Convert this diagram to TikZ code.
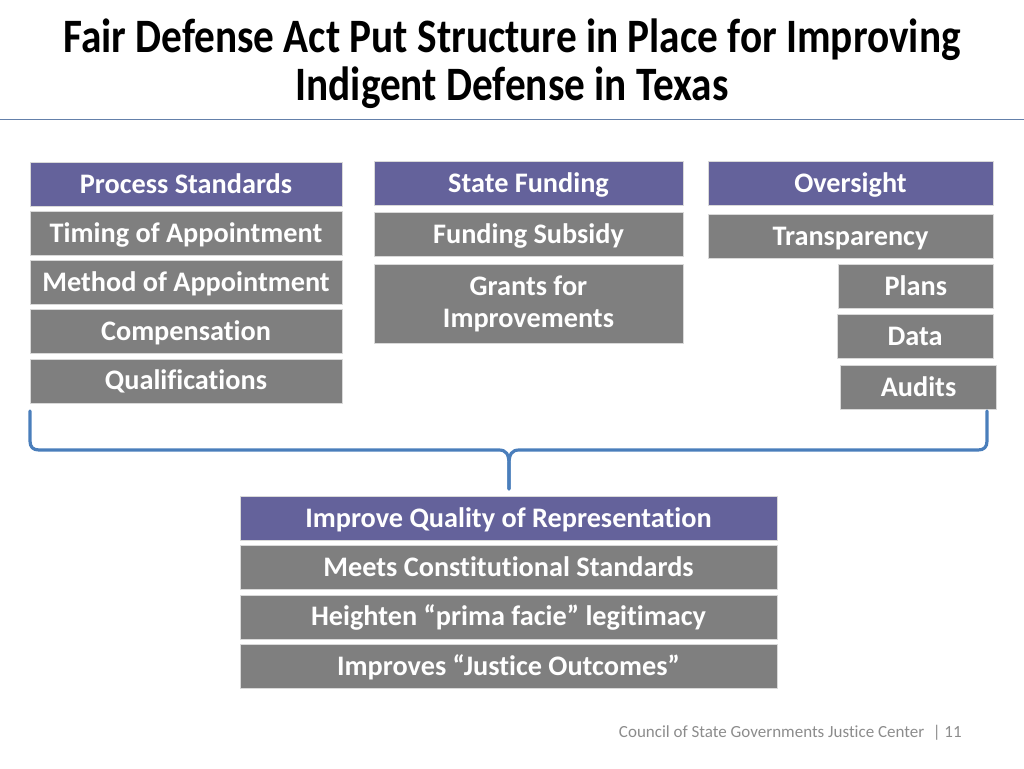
\documentclass[tikz,border=0pt]{standalone}
\usepackage{fontspec}
\setmainfont{Carlito}[Ligatures=NoCommon]
\newfontfamily\titlefont{Carlito}[FakeStretch=0.86, Ligatures=NoCommon]
\usepackage{tikz}
\usetikzlibrary{positioning}
\definecolor{headpurple}{HTML}{64629B}
\definecolor{boxgray}{HTML}{7F7F7F}
\definecolor{braceblue}{HTML}{4A7EBB}
\definecolor{rulegray}{HTML}{6480AA}
\definecolor{footgray}{HTML}{8C8C8C}
\tikzset{
    head/.style={fill=headpurple, draw=white!85!black, text=white, inner sep=0pt,
        minimum height=33pt, align=center, text height=13.6pt, text depth=0pt,
        font=\bfseries\fontsize{21.2}{24}\selectfont},
    item/.style={head, fill=boxgray},
    brace/.style={draw=braceblue, line width=2.4pt, line cap=round, line join=round}
}

\begin{document}
\begin{tikzpicture}[x=0.75pt, y=-0.75pt, node distance=3.5pt]
    \useasboundingbox (0,0) rectangle (1024,768);
    % Title
    \node[font=\titlefont\bfseries\fontsize{36}{36}\selectfont, align=center, inner sep=0pt] (title) at (512,64)
        {Fair Defense Act Put Structure in Place for Improving\\Indigent Defense in Texas};
    \draw[rulegray, line width=0.8pt] (0,119.5) -- (1024,119.5);

    % Process standards
    \node[head, minimum width=234pt] (PS) at (186,184) {Process Standards};
    \node[item, minimum width=234pt, below=of PS] (T) {Timing of Appointment};
    \node[item, minimum width=234pt, below=of T] (M) {Method of Appointment};
    \node[item, minimum width=234pt, below=of M] (C) {Compensation};
    \node[item, minimum width=234pt, below=of C] (Q) {Qualifications};

    % State funding
    \node[head, minimum width=232pt] (SF) at (528.5,183) {State Funding};
    \node[item, minimum width=232pt, below=5pt of SF] (FS) {Funding Subsidy};
    \node[item, minimum width=232pt, minimum height=59pt, text height=, text depth=,
        below=6pt of FS] (G) {Grants for\\Improvements};

    % Oversight
    \node[head, minimum width=214pt] (O) at (850.5,183.5) {Oversight};
    \node[item, minimum width=214pt, below=6pt of O] (Tr) {Transparency};
    \node[item, minimum width=116pt, below=4.5pt of Tr.south east, anchor=north east] (P) {Plans};
    \node[item, minimum width=117pt, below=4pt of P.south east, anchor=north east] (D) {Data};
    \node[item, minimum width=117pt, below=5pt of D.south east, anchor=north east, xshift=2.5pt] (A) {Audits};

    % Brace
    \coordinate (bl) at (30,411);
    \coordinate (br) at (987,411);
    \coordinate (tip) at (509,489);
    \draw[brace] (bl) -- (30,441) .. controls (30,447) and (33,450) .. (39,450) -- (499,450)
        .. controls (506,450) and (509,454) .. (509,464) -- (tip);
    \draw[brace] (tip) -- (509,464) .. controls (509,454) and (512,450) .. (519,450) -- (978,450)
        .. controls (984,450) and (987,447) .. (987,441) -- (br);

    % Result
    \node[head, minimum width=403pt] (IQ) at (508.5,518.5) {Improve Quality of Representation};
    \node[item, minimum width=403pt, below=of IQ] (MC) {Meets Constitutional Standards};
    \node[item, minimum width=403pt, below=of MC] (HP) {Heighten “prima facie” legitimacy};
    \node[item, minimum width=403pt, below=of HP] (IJ) {Improves “Justice Outcomes”};

    % Footer
    \node[anchor=east, text=footgray, font=\fontsize{12.75}{15}\selectfont, inner sep=0pt] (foot) at (962,733)
        {Council of State Governments Justice Center\hspace{0.5em}| 11};
\end{tikzpicture}
\end{document}
